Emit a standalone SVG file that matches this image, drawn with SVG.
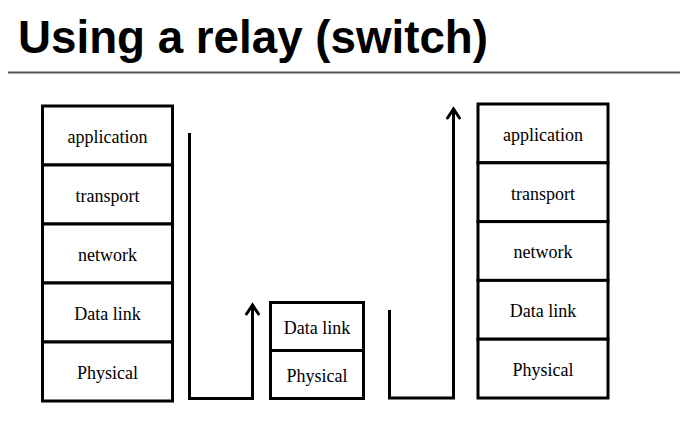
<svg xmlns="http://www.w3.org/2000/svg" width="696" height="429" viewBox="0 0 696 429">
<style>
.box{fill:#fff;stroke:#000;stroke-width:3}
.lbl{font-family:"Liberation Serif","Times New Roman",serif;font-size:18px;fill:#000;text-anchor:middle}
.wire{fill:none;stroke:#000;stroke-width:3;stroke-linejoin:miter}
.head{fill:none;stroke:#000;stroke-width:3;stroke-linecap:round;stroke-linejoin:miter}
</style>
<rect width="696" height="429" fill="#fff"/>
<g id="title">
<text x="18" y="53" font-family="Liberation Sans,Arial,sans-serif" font-weight="bold" font-size="46" textLength="470" lengthAdjust="spacingAndGlyphs">Using a relay (switch)</text>
<line x1="8" y1="72.5" x2="680" y2="72.5" stroke="#555" stroke-width="2"/>
</g>
<g id="left-stack">
<rect class="box" x="42.5" y="106" width="130" height="59"/>
<rect class="box" x="42.5" y="165" width="130" height="59"/>
<rect class="box" x="42.5" y="224" width="130" height="59"/>
<rect class="box" x="42.5" y="283" width="130" height="59"/>
<rect class="box" x="42.5" y="342" width="130" height="59"/>
<text class="lbl" x="107.5" y="143">application</text>
<text class="lbl" x="107.5" y="202">transport</text>
<text class="lbl" x="107.5" y="261">network</text>
<text class="lbl" x="107.5" y="320">Data link</text>
<text class="lbl" x="107.5" y="379">Physical</text>
</g>
<g id="middle-stack">
<rect class="box" x="270.5" y="302.5" width="93" height="48"/>
<rect class="box" x="270.5" y="350.5" width="93" height="48"/>
<text class="lbl" x="317" y="334">Data link</text>
<text class="lbl" x="317" y="382">Physical</text>
</g>
<g id="right-stack">
<rect class="box" x="478" y="104" width="130" height="58.8"/>
<rect class="box" x="478" y="162.8" width="130" height="58.8"/>
<rect class="box" x="478" y="221.6" width="130" height="58.8"/>
<rect class="box" x="478" y="280.4" width="130" height="58.8"/>
<rect class="box" x="478" y="339.2" width="130" height="58.8"/>
<text class="lbl" x="543" y="140.5">application</text>
<text class="lbl" x="543" y="199.5">transport</text>
<text class="lbl" x="543" y="258">network</text>
<text class="lbl" x="543" y="317">Data link</text>
<text class="lbl" x="543" y="376">Physical</text>
</g>
<g id="connectors">
<polyline class="wire" points="189.5,133 189.5,398.5 252.5,398.5 252.5,305"/>
<polyline class="head" points="246.5,314 252.5,305 258.5,314"/>
<polyline class="wire" points="389.5,310 389.5,398 453.5,398 453.5,109"/>
<polyline class="head" points="447.5,118 453.5,109 459.5,118"/>
</g>
</svg>
